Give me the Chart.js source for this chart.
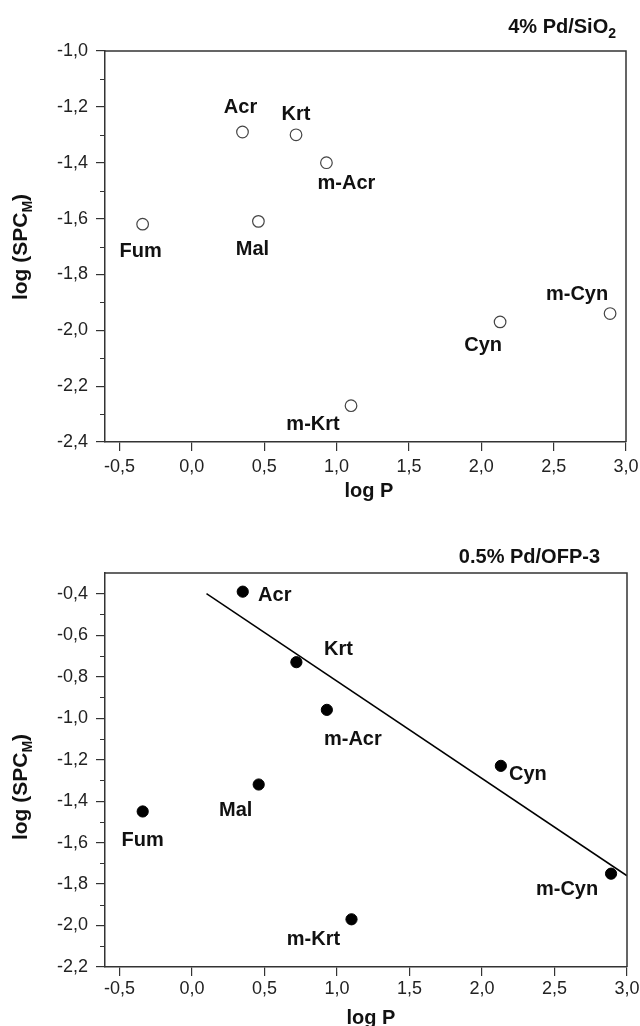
<!DOCTYPE html>
<html>
<head>
<meta charset="utf-8">
<script src="https://cdn.jsdelivr.net/npm/chart.js@4.4.1/dist/chart.umd.min.js"></script>
<style>
    html, body { margin: 0; padding: 0; background: #fff; }
    canvas { display: block; }
</style>
</head>
<body>
<canvas id="chartSiO2" width="640" height="513"></canvas>
<canvas id="chartOfp" width="640" height="513"></canvas>
<script>
// ================= DATA =================
const compounds = ['Fum', 'Acr', 'Mal', 'Krt', 'm-Acr', 'm-Krt', 'Cyn', 'm-Cyn'];
const logP = [-0.34, 0.35, 0.46, 0.72, 0.93, 1.10, 2.13, 2.89];
const logSpcSiO2 = [-1.62, -1.29, -1.61, -1.30, -1.40, -2.27, -1.97, -1.94];
const logSpcOfp = [-1.45, -0.39, -1.32, -0.73, -0.96, -1.97, -1.23, -1.75];

// linear fit drawn on the 0.5% Pd/OFP-3 panel
const fitX = [0.1, 3.0];
const fitY = [-0.40, -1.76];

const xTicks = [-0.5, 0.0, 0.5, 1.0, 1.5, 2.0, 2.5, 3.0];
const yTicksSiO2 = [-1.0, -1.2, -1.4, -1.6, -1.8, -2.0, -2.2, -2.4];
const yMinorSiO2 = [-1.1, -1.3, -1.5, -1.7, -1.9, -2.1, -2.3];
const yTicksOfp = [-0.4, -0.6, -0.8, -1.0, -1.2, -1.4, -1.6, -1.8, -2.0, -2.2];
const yMinorOfp = [-0.5, -0.7, -0.9, -1.1, -1.3, -1.5, -1.7, -1.9, -2.1];

// label placement (px offset from each point, text baseline)
const labelOffsetSiO2 = [[-2, 33], [-2, -19], [-6, 34], [0, -15], [20, 26], [-38, 24], [-17, 29], [-33, -14]];
const labelOffsetOfp = [[0, 35], [32, 9], [-23, 31], [42, -7], [26, 35], [-38, 26], [27, 14], [-44, 21]];

const FONT = '"Liberation Sans", Arial, Helvetica, sans-serif';
const AXIS_COLOR = '#333';
const TEXT_COLOR = '#111';

const fmt = v => v.toFixed(1).replace('.', ',');

// ================= PLUGIN =================
// frame, minor ticks, point labels and titles with subscripts
const decorPlugin = {
    id: 'decor',
    afterDraw(chart, args, opts) {
        const ctx = chart.ctx;
        const area = chart.chartArea;
        const ys = chart.scales.y;
        ctx.save();

        // top + right frame lines
        ctx.strokeStyle = AXIS_COLOR;
        ctx.lineWidth = 1.5;
        ctx.beginPath();
        ctx.moveTo(area.left, area.top);
        ctx.lineTo(area.right, area.top);
        ctx.lineTo(area.right, area.bottom);
        ctx.stroke();

        // minor y ticks
        ctx.lineWidth = 1.2;
        ctx.beginPath();
        opts.minor.forEach(v => {
            const y = Math.round(ys.getPixelForValue(v)) + 0.5;
            ctx.moveTo(area.left - 5, y);
            ctx.lineTo(area.left, y);
        });
        ctx.stroke();

        // point labels
        const meta = chart.getDatasetMeta(0);
        ctx.fillStyle = TEXT_COLOR;
        ctx.font = 'bold 20px ' + FONT;
        ctx.textAlign = 'center';
        ctx.textBaseline = 'alphabetic';
        compounds.forEach((name, i) => {
            const pt = meta.data[i];
            const off = opts.offsets[i];
            ctx.fillText(name, pt.x + off[0], pt.y + off[1]);
        });

        // x axis title
        ctx.fillText('log P', opts.xTitleX, opts.xTitleY);

        // y axis title: log (SPC_M)
        ctx.save();
        ctx.translate(opts.yTitleX, opts.yTitleY);
        ctx.rotate(-Math.PI / 2);
        ctx.textAlign = 'left';
        const big = 'bold 21px ' + FONT;
        const small = 'bold 14px ' + FONT;
        ctx.font = big;
        const w1 = ctx.measureText('log (SPC').width;
        const w3 = ctx.measureText(')').width;
        ctx.font = small;
        const w2 = ctx.measureText('M').width;
        let x0 = -(w1 + w2 + w3) / 2;
        ctx.font = big;
        ctx.fillText('log (SPC', x0, 7);
        ctx.font = small;
        ctx.fillText('M', x0 + w1, 12);
        ctx.font = big;
        ctx.fillText(')', x0 + w1 + w2, 7);
        ctx.restore();

        // panel title, right aligned, optional subscript
        ctx.textAlign = 'left';
        ctx.font = 'bold 20px ' + FONT;
        const tw = ctx.measureText(opts.title).width;
        ctx.font = 'bold 14px ' + FONT;
        const sw = opts.titleSub ? ctx.measureText(opts.titleSub).width : 0;
        const tx = opts.titleRight - tw - sw;
        ctx.font = 'bold 20px ' + FONT;
        ctx.fillText(opts.title, tx, opts.titleY);
        if (opts.titleSub) {
            ctx.font = 'bold 14px ' + FONT;
            ctx.fillText(opts.titleSub, tx + tw, opts.titleY + 5);
        }

        ctx.restore();
    }
};

// ================= CHARTS =================
function makeScales(yMin, yMax, yTicks, xHeight, xPad) {
    const tickFont = { family: FONT, size: 18 };
    return {
        x: {
            type: 'linear',
            min: -0.6,
            max: 3.0,
            afterBuildTicks: s => { s.ticks = xTicks.map(v => ({ value: v })); },
            afterFit: s => { s.height = xHeight; s.paddingLeft = 0; s.paddingRight = 0; },
            ticks: { callback: v => fmt(v), color: '#222', font: tickFont, padding: xPad, maxRotation: 0, autoSkip: false },
            grid: { drawOnChartArea: false, drawTicks: true, tickLength: 9, color: AXIS_COLOR, lineWidth: 1.2 },
            border: { display: true, color: AXIS_COLOR, width: 1.5 }
        },
        y: {
            type: 'linear',
            min: yMin,
            max: yMax,
            afterBuildTicks: s => { s.ticks = yTicks.map(v => ({ value: v })); },
            afterFit: s => { s.width = 105; s.paddingTop = 0; s.paddingBottom = 0; },
            ticks: { callback: v => fmt(v), color: '#222', font: tickFont, padding: 8, autoSkip: false },
            grid: { drawOnChartArea: false, drawTicks: true, tickLength: 9, color: AXIS_COLOR, lineWidth: 1.2 },
            border: { display: true, color: AXIS_COLOR, width: 1.5 }
        }
    };
}

function initCharts() {
    new Chart(document.getElementById('chartSiO2').getContext('2d'), {
        type: 'scatter',
        data: {
            datasets: [{
                data: logP.map((x, i) => ({ x: x, y: logSpcSiO2[i] })),
                pointRadius: 5.8,
                pointBackgroundColor: '#fff',
                pointBorderColor: '#444',
                pointBorderWidth: 1.2
            }]
        },
        options: {
            responsive: false,
            animation: false,
            layout: { padding: { top: 51, right: 14, left: 0, bottom: 0 } },
            plugins: {
                legend: { display: false },
                tooltip: { enabled: false },
                decor: {
                    minor: yMinorSiO2,
                    offsets: labelOffsetSiO2,
                    xTitleX: 369, xTitleY: 497,
                    yTitleX: 20, yTitleY: 247,
                    title: '4% Pd/SiO', titleSub: '2', titleRight: 616, titleY: 33
                }
            },
            scales: makeScales(-2.4, -1.0, yTicksSiO2, 71, 5)
        },
        plugins: [decorPlugin]
    });

    new Chart(document.getElementById('chartOfp').getContext('2d'), {
        type: 'scatter',
        data: {
            datasets: [{
                data: logP.map((x, i) => ({ x: x, y: logSpcOfp[i] })),
                pointRadius: 5.6,
                pointBackgroundColor: '#000',
                pointBorderColor: '#000',
                pointBorderWidth: 1
            }, {
                type: 'line',
                data: fitX.map((x, i) => ({ x: x, y: fitY[i] })),
                showLine: true,
                borderColor: '#000',
                borderWidth: 1.5,
                pointRadius: 0,
                fill: false
            }]
        },
        options: {
            responsive: false,
            animation: false,
            layout: { padding: { top: 60, right: 13, left: 0, bottom: 0 } },
            plugins: {
                legend: { display: false },
                tooltip: { enabled: false },
                decor: {
                    minor: yMinorOfp,
                    offsets: labelOffsetOfp,
                    xTitleX: 371, xTitleY: 511,
                    yTitleX: 20, yTitleY: 274,
                    title: '0.5% Pd/OFP-3', titleSub: '', titleRight: 600, titleY: 50
                }
            },
            scales: makeScales(-2.2, -0.3, yTicksOfp, 59, 2)
        },
        plugins: [decorPlugin]
    });
}

initCharts();
</script>
</body>
</html>
